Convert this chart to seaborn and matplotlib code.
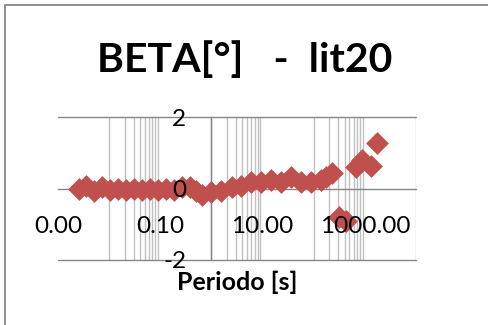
import matplotlib
matplotlib.use("Agg")
import numpy as np
import pandas as pd
import seaborn as sns
import matplotlib.pyplot as plt
from matplotlib.ticker import FixedLocator, FixedFormatter, NullFormatter
from matplotlib.patches import Rectangle

# ---- data ----
periodo = [0.00256, 0.00352, 0.00503, 0.00721, 0.0103, 0.0148, 0.0212, 0.0303,
           0.0434, 0.0621, 0.0889, 0.127, 0.182, 0.261, 0.374, 0.490, 0.641,
           1.00, 1.57, 2.47, 3.86, 6.05, 9.48, 14.9, 23.2, 36.4, 57.0, 89.3,
           140, 175, 230, 314, 431, 674, 881, 1321, 1730]
beta = [0.00, 0.08, -0.06, 0.03, -0.03, 0.00, -0.03, 0.00,
        -0.03, 0.00, -0.05, 0.00, -0.03, 0.03, 0.03, -0.08, -0.17,
        -0.11, -0.06, 0.03, 0.08, 0.17, 0.19, 0.25, 0.19, 0.31, 0.17, 0.19,
        0.25, 0.33, 0.44, -0.81, -0.92, 0.61, 0.81, 0.64, 1.28]

x_ticks = [0.001, 0.1, 10, 1000]
x_ticklabels = ["0.00", "0.10", "10.00", "1000.00"]
y_ticks = [-2, 0, 2]
y_ticklabels = ["-2", "0", "2"]
title = "BETA[°]   -  lit20"
xlabel = "Periodo [s]"

# ---- style ----
sns.set_theme(style="white")
plt.rcParams["font.family"] = ["Lato", "DejaVu Sans"]

W, H = 489, 325
fig = plt.figure(figsize=(W / 100, H / 100), dpi=100)
ax = fig.add_axes([58 / W, 65 / H, 358 / W, 143 / H])
ax.set_xscale("log")

df = pd.DataFrame({"periodo": periodo, "beta": beta})
sns.scatterplot(data=df, x="periodo", y="beta", marker="D", s=135,
                color="#C0504D", linewidth=0, ax=ax, zorder=2, legend=False)

ax.set_xlim(1e-3, 1e4)
ax.set_ylim(-2, 2)

# gridlines drawn below the markers
grid_x = [m * 10.0 ** e for e in (-2, 0, 2) for m in range(1, 10)] + [1e4]
for gx in grid_x:
    ax.axvline(gx, color="#c0c0c0", linewidth=1.0, zorder=0.5)
for gy in (-2, 2):
    ax.axhline(gy, color="#868686", linewidth=1.0, zorder=0.6, clip_on=False)
ax.grid(False)

# spines: axes cross at x=1, y=0
for s in ["top", "right"]:
    ax.spines[s].set_visible(False)
ax.spines["left"].set_position(("data", 1))
ax.spines["bottom"].set_position(("data", 0))
for s in ["left", "bottom"]:
    ax.spines[s].set_color("#868686")
    ax.spines[s].set_linewidth(1.0)
    ax.spines[s].set_zorder(1.5)

# ticks
ax.xaxis.set_major_locator(FixedLocator(x_ticks))
ax.xaxis.set_major_formatter(FixedFormatter(x_ticklabels))
ax.xaxis.set_minor_locator(FixedLocator([]))
ax.xaxis.set_minor_formatter(NullFormatter())
ax.yaxis.set_major_locator(FixedLocator(y_ticks))
ax.yaxis.set_major_formatter(FixedFormatter(y_ticklabels))
ax.yaxis.set_minor_locator(FixedLocator([]))

ax.tick_params(axis="both", which="both", length=0, labelsize=17.5,
               labelcolor="black")
ax.tick_params(axis="x", which="major", pad=19.5)
ax.tick_params(axis="y", which="major", pad=18)
ax.xaxis.set_zorder(3)
ax.yaxis.set_zorder(3)

ax.set_xlabel(xlabel, fontsize=18, fontweight="bold", color="black")
ax.set_ylabel("")
ax.xaxis.set_label_coords(0.5, -0.075)

fig.text(0.5, 1 - 72 / H, title, ha="center", va="baseline",
         fontsize=29.5, fontweight="bold", color="black")

fig.add_artist(Rectangle((4.5 / W, -0.1), 1.2, (1 - 5 / H) + 0.1,
                         transform=fig.transFigure, fill=False,
                         edgecolor="#868686", linewidth=1.3))

fig.savefig("out.png", dpi=100)
